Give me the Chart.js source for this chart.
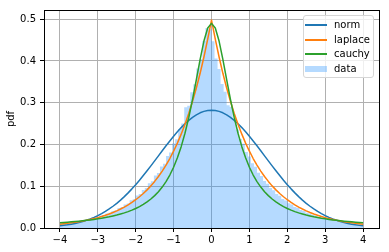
<!DOCTYPE html>
<html>
<head>
<meta charset="utf-8">
<script src="https://cdn.jsdelivr.net/npm/chart.js@4.4.1/dist/chart.umd.min.js"></script>
<style>
  html, body { margin: 0; padding: 0; background: #fff; }
  #wrap { position: relative; width: 389px; height: 252px; }
  #legend {
    position: absolute; left: 303px; top: 15px; width: 71px; height: 63px;
    box-sizing: border-box; border: 1px solid #d6d6d6; border-radius: 3px;
    background: rgba(255,255,255,0.8); font: 10px "DejaVu Sans", sans-serif; color: #000;
  }
  .item { position: absolute; left: 0; height: 14px; width: 100%; }
  .item .sw { position: absolute; left: 1px; width: 22px; }
  .item span { position: absolute; left: 30px; top: 0; line-height: 14px; white-space: nowrap; }
</style>
</head>
<body>
<div id="wrap">
  <canvas id="c" width="389" height="252"></canvas>
  <div id="legend"></div>
</div>
<script>
// x grid for the fitted curves
const xs = [-4.0,-3.9,-3.8,-3.7,-3.6,-3.5,-3.4,-3.3,-3.2,-3.1,-3.0,-2.9,-2.8,-2.7,-2.6,-2.5,-2.4,-2.3,-2.2,-2.1,
  -2.0,-1.9,-1.8,-1.7,-1.6,-1.5,-1.4,-1.3,-1.2,-1.1,-1.0,-0.9,-0.8,-0.7,-0.6,-0.5,-0.4,-0.3,-0.2,-0.1,
  0.0,0.1,0.2,0.3,0.4,0.5,0.6,0.7,0.8,0.9,1.0,1.1,1.2,1.3,1.4,1.5,1.6,1.7,1.8,1.9,
  2.0,2.1,2.2,2.3,2.4,2.5,2.6,2.7,2.8,2.9,3.0,3.1,3.2,3.3,3.4,3.5,3.6,3.7,3.8,3.9,4.0];

const normY = [0.0052,0.0063,0.0076,0.0092,0.0110,0.0132,0.0157,0.0185,0.0218,0.0255,0.0297,0.0345,0.0397,0.0456,0.0521,0.0591,0.0668,0.0752,0.0841,0.0937,
  0.1038,0.1144,0.1255,0.1370,0.1487,0.1607,0.1728,0.1849,0.1968,0.2085,0.2197,0.2304,0.2404,0.2496,0.2578,0.2650,0.2710,0.2758,0.2793,0.2814,
  0.2821,
  0.2814,0.2793,0.2758,0.2710,0.2650,0.2578,0.2496,0.2404,0.2304,0.2197,0.2085,0.1968,0.1849,0.1728,0.1607,0.1487,0.1370,0.1255,0.1144,0.1038,
  0.0937,0.0841,0.0752,0.0668,0.0591,0.0521,0.0456,0.0397,0.0345,0.0297,0.0255,0.0218,0.0185,0.0157,0.0132,0.0110,0.0092,0.0076,0.0063,0.0052];

const laplaceY = [0.0092,0.0101,0.0112,0.0124,0.0137,0.0151,0.0167,0.0184,0.0204,0.0225,0.0249,0.0275,0.0304,0.0336,0.0371,0.0410,0.0454,0.0501,0.0554,0.0612,
  0.0677,0.0748,0.0826,0.0913,0.1009,0.1116,0.1233,0.1363,0.1506,0.1664,0.1839,0.2033,0.2247,0.2483,0.2744,0.3033,0.3352,0.3704,0.4094,0.4524,
  0.4980,
  0.4524,0.4094,0.3704,0.3352,0.3033,0.2744,0.2483,0.2247,0.2033,0.1839,0.1664,0.1506,0.1363,0.1233,0.1116,0.1009,0.0913,0.0826,0.0748,0.0677,
  0.0612,0.0554,0.0501,0.0454,0.0410,0.0371,0.0336,0.0304,0.0275,0.0249,0.0225,0.0204,0.0184,0.0167,0.0151,0.0137,0.0124,0.0112,0.0101,0.0092];

const cauchyY = [0.0126,0.0132,0.0139,0.0147,0.0155,0.0163,0.0173,0.0183,0.0194,0.0206,0.0220,0.0234,0.0251,0.0268,0.0288,0.0310,0.0335,0.0362,0.0393,0.0428,
  0.0468,0.0513,0.0565,0.0625,0.0694,0.0775,0.0869,0.0980,0.1112,0.1268,0.1455,0.1680,0.1948,0.2269,0.2646,0.3078,0.3554,0.4039,0.4476,0.4787,
  0.4900,
  0.4787,0.4476,0.4039,0.3554,0.3078,0.2646,0.2269,0.1948,0.1680,0.1455,0.1268,0.1112,0.0980,0.0869,0.0775,0.0694,0.0625,0.0565,0.0513,0.0468,
  0.0428,0.0393,0.0362,0.0335,0.0310,0.0288,0.0268,0.0251,0.0234,0.0220,0.0206,0.0194,0.0183,0.0173,0.0163,0.0155,0.0147,0.0139,0.0132,0.0126];

// histogram: 100 bins of 0.08 between -4 and 4
const binEdges = [-4.00,-3.92,-3.84,-3.76,-3.68,-3.60,-3.52,-3.44,-3.36,-3.28,-3.20,-3.12,-3.04,-2.96,-2.88,-2.80,-2.72,-2.64,-2.56,-2.48,
  -2.40,-2.32,-2.24,-2.16,-2.08,-2.00,-1.92,-1.84,-1.76,-1.68,-1.60,-1.52,-1.44,-1.36,-1.28,-1.20,-1.12,-1.04,-0.96,-0.88,
  -0.80,-0.72,-0.64,-0.56,-0.48,-0.40,-0.32,-0.24,-0.16,-0.08,0.00,0.08,0.16,0.24,0.32,0.40,0.48,0.56,0.64,0.72,
  0.80,0.88,0.96,1.04,1.12,1.20,1.28,1.36,1.44,1.52,1.60,1.68,1.76,1.84,1.92,2.00,2.08,2.16,2.24,2.32,
  2.40,2.48,2.56,2.64,2.72,2.80,2.88,2.96,3.04,3.12,3.20,3.28,3.36,3.44,3.52,3.60,3.68,3.76,3.84,3.92,4.00];
const histY = [0.0092,0.0105,0.0109,0.0124,0.0128,0.0139,0.0157,0.0163,0.0184,0.0192,
  0.0216,0.0226,0.0254,0.0265,0.0297,0.0311,0.0349,0.0365,0.0410,0.0428,
  0.0480,0.0502,0.0565,0.0589,0.0662,0.0690,0.0778,0.0812,0.0910,0.0955,
  0.1070,0.1120,0.1255,0.1315,0.1470,0.1540,0.1725,0.1810,0.2025,0.2125,
  0.2370,0.2500,0.2890,0.2930,0.3250,0.3440,0.3820,0.4040,0.4480,0.4790,
  0.4760,0.4470,0.4060,0.3810,0.3450,0.3260,0.2940,0.2900,0.2620,0.2360,
  0.2130,0.2020,0.1820,0.1715,0.1550,0.1465,0.1320,0.1245,0.1125,0.1062,
  0.0958,0.0905,0.0816,0.0772,0.0695,0.0658,0.0592,0.0560,0.0505,0.0477,
  0.0430,0.0407,0.0366,0.0347,0.0312,0.0296,0.0266,0.0252,0.0227,0.0215,
  0.0193,0.0183,0.0165,0.0156,0.0140,0.0133,0.0120,0.0113,0.0101,0.0097];

const xTicks = [-4, -3, -2, -1, 0, 1, 2, 3, 4];
const yTicks = [0, 0.1, 0.2, 0.3, 0.4, 0.5];

const labels = ['norm', 'laplace', 'cauchy', 'data'];
const colors = ['#1f77b4', '#ff7f0e', '#2ca02c', 'rgba(30,144,255,0.33)'];

const FONT = 'DejaVu Sans';

const pts = (ys) => xs.map((x, i) => ({ x, y: ys[i] }));
const histPts = binEdges.map((x, i) => ({ x, y: histY[Math.min(i, histY.length - 1)] }));

const lineDs = (i, ys, order) => ({
  label: labels[i], data: pts(ys), borderColor: colors[i], borderWidth: 1.5,
  pointRadius: 0, tension: 0, fill: false, order, borderJoinStyle: 'round'
});

// frame round the plot area
const frame = {
  id: 'frame',
  afterDatasetsDraw(chart) {
    const { ctx, chartArea: a } = chart;
    ctx.save();
    ctx.strokeStyle = '#000';
    ctx.lineWidth = 1;
    ctx.strokeRect(a.left + 0.5, a.top + 0.5, a.right - a.left, a.bottom - a.top);
    ctx.restore();
  }
};

new Chart(document.getElementById('c'), {
  type: 'line',
  data: {
    datasets: [
      lineDs(0, normY, 3),
      lineDs(1, laplaceY, 2),
      lineDs(2, cauchyY, 1),
      { label: labels[3], data: histPts, stepped: 'after', borderWidth: 0, pointRadius: 0,
        backgroundColor: colors[3], borderColor: 'rgba(0,0,0,0)', fill: 'origin', order: 4 }
    ]
  },
  options: {
    responsive: false,
    animation: false,
    devicePixelRatio: 1,
    layout: { padding: { top: 10, right: 10, left: 0, bottom: 0 } },
    plugins: { legend: { display: false }, tooltip: { enabled: false } },
    scales: {
      x: {
        type: 'linear', min: -4.42, max: 4.42,
        afterBuildTicks: s => { s.ticks = xTicks.map(v => ({ value: v })); },
        afterFit: s => { s.height = 24; },
        border: { display: false },
        grid: { color: '#b0b0b0', lineWidth: 1, tickColor: '#000', tickLength: 4 },
        ticks: {
          padding: 2, color: '#000', font: { family: FONT, size: 10 }, maxRotation: 0,
          callback: v => v < 0 ? '\u2212' + Math.abs(v) : String(v)
        }
      },
      y: {
        type: 'linear', min: 0, max: 0.522,
        afterBuildTicks: s => { s.ticks = yTicks.map(v => ({ value: v })); },
        afterFit: s => { s.width = 44; },
        border: { display: false },
        grid: { color: '#b0b0b0', lineWidth: 1, tickColor: '#000', tickLength: 4 },
        ticks: { padding: 4, color: '#000', font: { family: FONT, size: 10 },
          callback: v => v.toFixed(1) },
        title: { display: true, text: 'pdf', color: '#000', font: { family: FONT, size: 10 },
          padding: { top: 5, bottom: 0 } }
      }
    }
  },
  plugins: [frame]
});

// legend box inside the plot
const legend = document.getElementById('legend');
const rowTop = [2, 16.5, 31, 46];
labels.forEach((lab, i) => {
  const item = document.createElement('div');
  item.className = 'item';
  item.style.top = rowTop[i] + 'px';
  const sw = document.createElement('div');
  sw.className = 'sw';
  if (i < 3) {
    sw.style.top = '6px'; sw.style.height = '2px'; sw.style.background = colors[i];
  } else {
    sw.style.top = '4px'; sw.style.height = '6px'; sw.style.background = colors[i];
  }
  const t = document.createElement('span');
  t.textContent = lab;
  item.append(sw, t);
  legend.appendChild(item);
});
</script>
</body>
</html>
